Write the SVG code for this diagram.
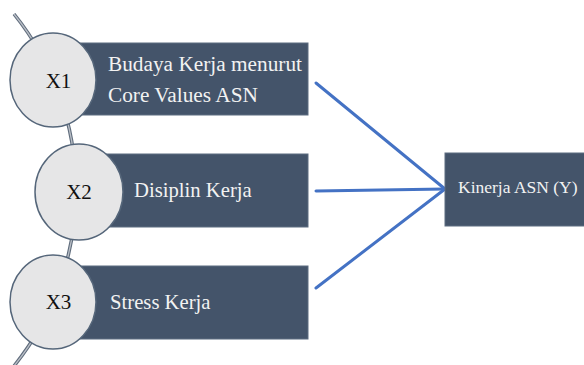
<svg xmlns="http://www.w3.org/2000/svg" width="584" height="365" viewBox="0 0 584 365">
<style>
.box{fill:#44546A;stroke:#5d6c80;stroke-width:1}
.circ{fill:#E6E6E7;stroke:#55667a;stroke-width:1.5}
.lbl{font-family:"Liberation Serif","Times New Roman",serif;fill:#F2F2F2;font-size:20.7px}
.cl{font-family:"Liberation Serif","Times New Roman",serif;fill:#111;font-size:21px;text-anchor:middle}
.conn{stroke:#4472C4;stroke-width:3;fill:none;stroke-linecap:round}
</style>
<rect width="584" height="365" fill="#fff"/>
<g id="arc">
<path d="M 14 14 A 281 281 0 0 1 14 366" fill="none" stroke="#5f6c7c" stroke-width="3.5"/>
<path d="M 14 14 A 281 281 0 0 1 14 366" fill="none" stroke="#b9bec6" stroke-width="1.3"/>
</g>
<g id="connectors">
<line class="conn" x1="316" y1="83" x2="445" y2="189"/>
<line class="conn" x1="316" y1="191" x2="445" y2="189"/>
<line class="conn" x1="316" y1="288" x2="445" y2="189"/>
</g>
<g id="node-x1">
<rect class="box" x="60" y="43" width="248" height="72"/>
<ellipse class="circ" cx="53" cy="80" rx="43" ry="47"/>
<text class="cl" x="58.5" y="88">X1</text>
<text class="lbl" x="108" y="71" style="font-size:21.3px">Budaya Kerja menurut</text>
<text class="lbl" x="108" y="102" style="font-size:21.3px">Core Values ASN</text>
</g>
<g id="node-x2">
<rect class="box" x="80" y="154" width="228" height="73"/>
<ellipse class="circ" cx="79" cy="192" rx="44" ry="48"/>
<text class="cl" x="79" y="199">X2</text>
<text class="lbl" x="134" y="197">Disiplin Kerja</text>
</g>
<g id="node-x3">
<rect class="box" x="60" y="266" width="248" height="73"/>
<ellipse class="circ" cx="53" cy="302" rx="43" ry="47"/>
<text class="cl" x="58.5" y="309">X3</text>
<text class="lbl" x="110" y="309">Stress Kerja</text>
</g>
<g id="node-y">
<rect class="box" x="445" y="153" width="145" height="73"/>
<text class="lbl" x="458" y="193" style="font-size:17.5px">Kinerja ASN (Y)</text>
</g>
</svg>
